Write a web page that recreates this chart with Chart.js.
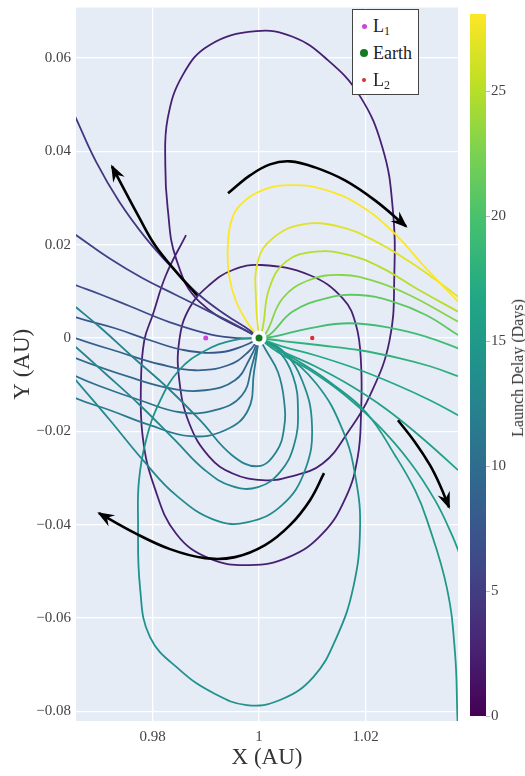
<!DOCTYPE html>
<html>
<head>
<meta charset="utf-8">
<script src="https://cdn.jsdelivr.net/npm/chart.js@4/dist/chart.umd.min.js"></script>
<style>
  html, body { margin: 0; padding: 0; background: #fff; }
  #wrap { position: relative; width: 525px; height: 776px; }
  #legend { position: absolute; left: 352px; top: 9px; width: 65px; height: 84px; border: 1px solid #444; background: #fff;
            font-family: 'Liberation Serif', 'DejaVu Serif', serif; font-size: 18px; color: #222; }
  .row { position: absolute; left: 0; height: 22px; line-height: 22px; }
  .dot { position: absolute; border-radius: 50%; }
  .lbl { position: absolute; left: 20px; top: 0; white-space: nowrap; }
  .lbl sub { font-size: 12px; vertical-align: -3px; }
  #cbtitle { position: absolute; left: 518px; top: 368px; transform: translate(-50%, -50%) rotate(-90deg);
             white-space: nowrap; font-family: 'Liberation Serif', 'DejaVu Serif', serif; font-size: 16px; color: #333; }
</style>
</head>
<body>
<div id="wrap">
  <canvas id="chart" width="525" height="776"></canvas>
  <div id="legend"></div>
  <div id="cbtitle">Launch Delay (Days)</div>
</div>
<script>
// ---------------- DATA (AU) ----------------
// Axis ranges
const X_RANGE = [0.96563, 1.03737];
const Y_RANGE = [-0.08206, 0.0708];
const COLORBAR_RANGE = [0, 28.09];
const X_TICK_STEP = 0.02;
const Y_TICK_STEP = 0.02;
const COLORBAR_TICK_STEP = 5;

// Trajectories (x, y in AU), each launched from Earth
const trajLoop = [[1.0,0.0],[0.98879,0.00779],[0.98441,0.01706],[0.98285,0.02777],[0.9824,0.03704],[0.98285,0.04704],[0.98567,0.05631],[0.99067,0.06273],[0.99944,0.06573],[1.00633,0.06453],[1.01258,0.05988],[1.01884,0.05203],[1.02323,0.04061],[1.02511,0.02777],[1.02541,0.01349],[1.02447,-0.00077],[1.02071,-0.01263],[1.01696,-0.01976],[1.01196,-0.02689],[1.00569,-0.02976],[1.00069,-0.03047],[0.99506,-0.02903],[0.99067,-0.02548],[0.98691,-0.01833],[0.98503,-0.00906],[0.98503,-0.00049],[0.98691,0.00636],[0.99067,0.01135],[0.99506,0.01456],[1.00038,0.01563],[1.00945,0.01349],[1.01572,0.0085],[1.01822,0.00278],[1.01916,-0.00548],[1.01916,-0.01619],[1.01854,-0.02548],[1.01634,-0.03404],[1.01196,-0.04188],[1.00569,-0.04689],[0.99818,-0.04866],[0.99067,-0.04723],[0.98441,-0.04188],[0.98034,-0.0319],[0.97816,-0.0212],[0.97784,-0.00906],[0.97846,-0.00049],[0.98004,0.00492],[0.98253,0.01349],[0.98629,0.02205]];
const trajLa = [[0.96451,0.04982],[0.96563,0.04704],[0.96939,0.03777],[0.97376,0.0292],[0.97878,0.02135],[0.98379,0.01492],[0.98879,0.00921],[0.9938,0.00492],[0.99818,0.00171],[1.0,0.0]];
const trajLb = [[0.96375,0.02349],[0.96563,0.02205],[0.97189,0.01706],[0.97816,0.01278],[0.98441,0.00921],[0.99067,0.00565],[0.99568,0.00278],[1.0,0.0]];
const trajF3 = [[0.96375,0.01214],[0.96563,0.01128],[0.97014,0.00936],[0.97577,0.00679],[0.98329,0.00336],[0.9908,0.00079],[0.99643,-0.00006],[1.0,0.0]];
const trajF4 = [[0.96375,0.0055],[0.96563,0.00443],[0.97296,0.00208],[0.97953,-0.00049],[0.9861,-0.00263],[0.99268,-0.00306],[0.99737,-0.00156],[1.0,0.0]];
const trajF5 = [[0.96375,0.001],[0.96563,-0.00006],[0.9739,-0.00306],[0.98141,-0.00563],[0.98798,-0.00692],[0.99418,-0.00584],[0.99793,-0.00306],[1.0,0.0]];
const trajF6 = [[0.96375,-0.00306],[0.96563,-0.00435],[0.97577,-0.00841],[0.98329,-0.01077],[0.98986,-0.0112],[0.99549,-0.00906],[0.99831,-0.00435],[1.0,0.0]];
const trajF7 = [[0.96375,-0.00692],[0.96563,-0.0082],[0.97014,-0.01034],[0.97765,-0.01334],[0.98516,-0.01591],[0.99174,-0.01548],[0.99681,-0.01227],[0.99869,-0.00584],[1.0,0.0]];
const trajF8 = [[0.96375,-0.01141],[0.96563,-0.01291],[0.97202,-0.01548],[0.97953,-0.01869],[0.98704,-0.02105],[0.99361,-0.01976],[0.99793,-0.01548],[0.99906,-0.00734],[1.0,0.0]];
const trajTa = [[1.0,0.0],[1.00131,-0.00263],[1.00357,-0.00734],[1.0047,-0.01334],[1.0047,-0.01933],[1.00319,-0.02447],[0.99981,-0.02747],[0.99493,-0.02511],[0.98892,-0.01762],[0.98272,-0.01056],[0.97634,-0.00413],[0.97014,0.00229],[0.96563,0.00657],[0.96375,0.00829]];
const trajTa2 = [[1.0,0.0],[1.00338,-0.00242],[1.00639,-0.0082],[1.00732,-0.01548],[1.00657,-0.02297],[1.00394,-0.02875],[0.99981,-0.03196],[0.99493,-0.03175],[0.98986,-0.02833],[0.98422,-0.0219],[0.97765,-0.01441],[0.97108,-0.00756],[0.96563,-0.00199],[0.96375,-0.00028]];
const trajTb = [[1.0,0.0],[1.00432,-0.00263],[1.00808,-0.00906],[1.00995,-0.01869],[1.00864,-0.02833],[1.00432,-0.03582],[0.99793,-0.03946],[0.99174,-0.03903],[0.98441,-0.03368],[0.97822,-0.02618],[0.97202,-0.01762],[0.96563,-0.00906],[0.96375,-0.00649]];
const trajTc = [[1.0,0.0],[1.00319,-0.00199],[1.0107,-0.0097],[1.01572,-0.01976],[1.01822,-0.03047],[1.01897,-0.04117],[1.01771,-0.05338],[1.01459,-0.06408],[1.0102,-0.07264],[1.00394,-0.07757],[0.99769,-0.07864],[0.99142,-0.07607],[0.98516,-0.07115],[0.97953,-0.06408],[0.97765,-0.05338],[0.97728,-0.03903],[0.97746,-0.03047],[0.97878,-0.0219],[0.98122,-0.01398],[0.98498,-0.00692],[0.99005,-0.00263],[0.99512,-0.00049],[1.0,0.0]];
const trajTd = [[1.0,0.0],[1.00282,-0.00199],[1.0077,-0.0052],[1.01333,-0.00948],[1.02009,-0.01591],[1.02573,-0.02548],[1.0293,-0.03261],[1.03155,-0.03903],[1.03525,-0.05338],[1.03681,-0.0675],[1.03728,-0.08185],[1.03747,-0.08613]];
const trajTf = [[1.0,0.0],[1.00357,-0.00306],[1.00958,-0.00692],[1.01615,-0.01227],[1.02235,-0.01869],[1.02836,-0.02661],[1.03305,-0.03475],[1.03625,-0.04224],[1.03775,-0.04652]];
const trajTe = [[1.0,0.0],[1.00394,-0.00263],[1.01052,-0.00606],[1.01709,-0.01013],[1.02366,-0.01505],[1.03024,-0.02105],[1.03737,-0.02833],[1.03963,-0.03089]];
const trajG4 = [[1.0,0.0],[1.00432,-0.00178],[1.01052,-0.0037],[1.01803,-0.00649],[1.02554,-0.00991],[1.03211,-0.01334],[1.03737,-0.01655],[1.03963,-0.01805]];
const trajG3 = [[1.0,0.0],[1.00488,-0.00071],[1.01146,-0.00156],[1.01897,-0.00263],[1.02648,-0.00435],[1.03211,-0.00606],[1.03737,-0.0082],[1.03963,-0.00927]];
const trajG2 = [[1.0,0.0],[1.003,0.00036],[1.00945,0.00208],[1.01696,0.00315],[1.02511,0.00208],[1.03117,0.00036],[1.03737,-0.00221],[1.03963,-0.00328]];
const trajG1 = [[1.0,0.0],[1.00193,0.00064],[1.00633,0.00565],[1.01258,0.0085],[1.01884,0.00921],[1.02511,0.00779],[1.03136,0.00492],[1.03737,0.00064],[1.03963,-0.00092]];
const trajY4 = [[1.0,0.0],[1.00131,0.001],[1.00445,0.0085],[1.00945,0.01242],[1.01572,0.01349],[1.02197,0.01208],[1.02823,0.00921],[1.03737,0.00351],[1.03963,0.00208]];
const trajY3 = [[1.0,0.0],[1.00069,0.00208],[1.00193,0.01064],[1.00507,0.01636],[1.0107,0.0185],[1.01696,0.01777],[1.02323,0.01492],[1.02948,0.01064],[1.03737,0.00565],[1.03963,0.00422]];
const trajY2 = [[1.0,0.0],[0.99944,0.00779],[0.99976,0.01636],[1.00257,0.02135],[1.00821,0.02434],[1.01508,0.02385],[1.02197,0.02064],[1.02823,0.01636],[1.0345,0.01135],[1.03737,0.00886],[1.03963,0.007]];
const trajY1 = [[1.0,0.0],[0.99812,0.00278],[0.99568,0.00786],[0.99437,0.01342],[0.99412,0.0192],[0.99474,0.02477],[0.99643,0.02841],[1.00069,0.03169],[1.00633,0.03276],[1.01258,0.03169],[1.01884,0.02848],[1.02511,0.02278],[1.03136,0.01492],[1.03737,0.00786],[1.03963,0.00529]];

const trajectories = [trajLoop, trajLa, trajLb, trajF3, trajF4, trajF5, trajF6, trajF7, trajF8, trajTa, trajTa2, trajTb, trajTc, trajTd, trajTf, trajTe, trajG4, trajG3, trajG2, trajG1, trajY4, trajY3, trajY2, trajY1];
const launchDelay = [2.5, 4.5, 5.5, 6.5, 7.5, 8.5, 9.5, 10.5, 11.5, 12.4, 12.9, 13.3, 14.0, 15.0, 15.5, 16.0, 17.0, 18.0, 19.3, 21.0, 23.0, 25.0, 26.8, 28.0];

// Flow-direction arrows (AU)
const arrowTop = [[0.99418,0.03098],[0.99831,0.03483],[1.00207,0.03719],[1.00582,0.03783],[1.01052,0.03655],[1.01615,0.03376],[1.02178,0.02948],[1.02761,0.02391]];
const arrowLeft = [[0.98836,0.00914],[0.98422,0.01449],[0.98047,0.01985],[0.97728,0.02627],[0.97427,0.03269],[0.97239,0.03676]];
const arrowBottom = [[1.01221,-0.02897],[1.00958,-0.03475],[1.00582,-0.0401],[1.00113,-0.04438],[0.99549,-0.04695],[0.98986,-0.04717],[0.98329,-0.04524],[0.97671,-0.04181],[0.96995,-0.03753]];
const arrowRight = [[1.0261,-0.01762],[1.0293,-0.02233],[1.03211,-0.02725],[1.03399,-0.03154],[1.03568,-0.03625]];
const arrows = [arrowTop, arrowLeft, arrowBottom, arrowRight];

// Special points
const pointNames = ['L1', 'Earth', 'L2'];
const pointX = [0.99, 1.0, 1.01];
const pointY = [0, 0, 0];

// ---------------- STYLE ----------------
const FONT = "'Liberation Serif', 'DejaVu Serif', serif";
const VIRIDIS = ['#440154','#482475','#414487','#355f8d','#2a788e','#21918c','#22a884','#44bf70','#7ad151','#bddf26','#fde725'];
const POINT_STYLE = {
  L1:    { color: '#cc44dd', r: 2.5, legendR: 2.5 },
  Earth: { color: '#147a22', r: 3.5, legendR: 4 },
  L2:    { color: '#d63030', r: 2.2, legendR: 2.2 }
};

function hexToRgb(h) { return [parseInt(h.slice(1,3),16), parseInt(h.slice(3,5),16), parseInt(h.slice(5,7),16)]; }
function viridis(t) {
  t = Math.max(0, Math.min(1, t));
  const n = VIRIDIS.length - 1;
  const i = Math.min(n - 1, Math.floor(t * n));
  const f = t * n - i;
  const a = hexToRgb(VIRIDIS[i]), b = hexToRgb(VIRIDIS[i + 1]);
  const c = a.map((v, k) => Math.round(v + (b[k] - v) * f));
  return `rgb(${c[0]},${c[1]},${c[2]})`;
}
const toXY = arr => arr.map(p => ({ x: p[0], y: p[1] }));

const datasets = [];
trajectories.forEach((tr, i) => {
  datasets.push({
    data: toXY(tr), showLine: true, pointRadius: 0, pointHoverRadius: 0,
    borderColor: viridis(launchDelay[i] / COLORBAR_RANGE[1]), borderWidth: 1.8,
    tension: 0.42, clip: 0
  });
});
arrows.forEach(a => {
  datasets.push({
    data: toXY(a), showLine: true, pointRadius: 0, pointHoverRadius: 0,
    borderColor: '#000', borderWidth: 2.6, tension: 0.4, clip: 0, arrowHead: true
  });
});
// white halo around Earth
datasets.push({ data: [{ x: pointX[1], y: pointY[1] }], pointRadius: 7.5, pointBackgroundColor: '#fff', pointBorderWidth: 0, showLine: false });
pointNames.forEach((nm, i) => {
  const st = POINT_STYLE[nm];
  datasets.push({ data: [{ x: pointX[i], y: pointY[i] }], pointRadius: st.r, pointBackgroundColor: st.color, pointBorderWidth: 0, showLine: false });
});
datasets.forEach((d, i) => { d.order = 1000 - i; });

// ---------------- PLUGINS ----------------
const plotBg = {
  id: 'plotBg',
  beforeDraw(chart) {
    const { ctx, chartArea: a } = chart;
    ctx.save(); ctx.fillStyle = '#e5ecf6'; ctx.fillRect(a.left, a.top, a.right - a.left, a.bottom - a.top); ctx.restore();
  }
};
const arrowHeads = {
  id: 'arrowHeads',
  afterDatasetsDraw(chart) {
    const ctx = chart.ctx;
    chart.data.datasets.forEach((ds, i) => {
      if (!ds.arrowHead) return;
      const pts = chart.getDatasetMeta(i).data;
      const p1 = pts[pts.length - 1], p0 = pts[pts.length - 2];
      let bx = p0.cp2x, by = p0.cp2y;
      if (bx === undefined || (Math.abs(bx - p1.x) < 0.5 && Math.abs(by - p1.y) < 0.5)) { bx = p0.x; by = p0.y; }
      const ang = Math.atan2(p1.y - by, p1.x - bx);
      const L = 15, W = 6.5;
      ctx.save();
      ctx.translate(p1.x, p1.y); ctx.rotate(ang);
      ctx.beginPath();
      ctx.moveTo(2, 0); ctx.lineTo(-L, -W); ctx.lineTo(-L * 0.62, 0); ctx.lineTo(-L, W); ctx.closePath();
      ctx.fillStyle = '#000'; ctx.fill();
      ctx.restore();
    });
  }
};
const colorbar = {
  id: 'colorbar',
  afterDraw(chart) {
    const s = chart.scales.c, a = chart.chartArea, ctx = chart.ctx;
    const x0 = a.right + 12, w = 16;
    const yb = s.getPixelForValue(COLORBAR_RANGE[0]), yt = s.getPixelForValue(COLORBAR_RANGE[1]);
    const g = ctx.createLinearGradient(0, yb, 0, yt);
    VIRIDIS.forEach((c, i) => g.addColorStop(i / (VIRIDIS.length - 1), c));
    ctx.save();
    ctx.fillStyle = g; ctx.fillRect(x0, yt, w, yb - yt);
    ctx.strokeStyle = '#bbb'; ctx.lineWidth = 1;
    s.ticks.forEach(t => {
      const y = Math.round(s.getPixelForValue(t.value)) + 0.5;
      ctx.beginPath(); ctx.moveTo(x0 + w, y); ctx.lineTo(x0 + w + 4, y); ctx.stroke();
    });
    ctx.restore();
  }
};

const fmt = v => {
  const s = String(parseFloat(Number(v).toFixed(4)));
  return s === '-0' ? '0' : s.replace('-', '\u2212');
};
const noPad = s => { s.paddingTop = 0; s.paddingBottom = 0; s.paddingLeft = 0; s.paddingRight = 0; };

// ---------------- CHART ----------------
new Chart(document.getElementById('chart'), {
  type: 'scatter',
  data: { datasets },
  options: {
    responsive: false, animation: false, devicePixelRatio: 1, events: [],
    layout: { padding: { top: 7, left: 0, right: 0, bottom: 0 } },
    plugins: { legend: { display: false }, tooltip: { enabled: false } },
    scales: {
      x: {
        type: 'linear', position: 'bottom', min: X_RANGE[0], max: X_RANGE[1],
        grid: { color: '#ffffff', lineWidth: 1.3, drawTicks: false },
        border: { display: false },
        ticks: { stepSize: X_TICK_STEP, includeBounds: false, callback: fmt, maxRotation: 0, padding: 7,
                 font: { family: FONT, size: 15 }, color: '#444' },
        title: { display: true, text: 'X (AU)', font: { family: FONT, size: 23 }, color: '#333', padding: { top: 0, bottom: 4 } },
        afterFit(s) { s.height = 55; noPad(s); }
      },
      y: {
        type: 'linear', position: 'left', min: Y_RANGE[0], max: Y_RANGE[1],
        grid: { color: '#ffffff', lineWidth: 1.3, drawTicks: false },
        border: { display: false },
        ticks: { stepSize: Y_TICK_STEP, includeBounds: false, callback: fmt, padding: 5,
                 font: { family: FONT, size: 15 }, color: '#444' },
        title: { display: true, text: 'Y (AU)', font: { family: FONT, size: 23 }, color: '#333', padding: { top: 9, bottom: 0 } },
        afterFit(s) { s.width = 76; noPad(s); }
      },
      c: {
        type: 'linear', position: 'right', min: -0.2, max: 28.35,
        grid: { display: false, drawTicks: false },
        border: { display: false },
        ticks: { stepSize: COLORBAR_TICK_STEP, includeBounds: false, padding: 33,
                 font: { family: FONT, size: 15 }, color: '#444', callback: v => String(v) },
        afterFit(s) { s.width = 67; noPad(s); }
      }
    }
  },
  plugins: [plotBg, arrowHeads, colorbar]
});

// ---------------- HTML LEGEND ----------------
const legendLabels = { L1: 'L<sub>1</sub>', Earth: 'Earth', L2: 'L<sub>2</sub>' };
const legend = document.getElementById('legend');
pointNames.forEach((nm, i) => {
  const st = POINT_STYLE[nm];
  const row = document.createElement('div');
  row.className = 'row';
  row.style.top = (5 + i * 27) + 'px';
  row.style.width = '100%';
  const dot = document.createElement('div');
  dot.className = 'dot';
  dot.style.width = dot.style.height = (2 * st.legendR) + 'px';
  dot.style.left = (11 - st.legendR) + 'px';
  dot.style.top = (11 - st.legendR) + 'px';
  dot.style.background = st.color;
  const lbl = document.createElement('div');
  lbl.className = 'lbl';
  lbl.innerHTML = legendLabels[nm];
  row.appendChild(dot); row.appendChild(lbl);
  legend.appendChild(row);
});
</script>
</body>
</html>
